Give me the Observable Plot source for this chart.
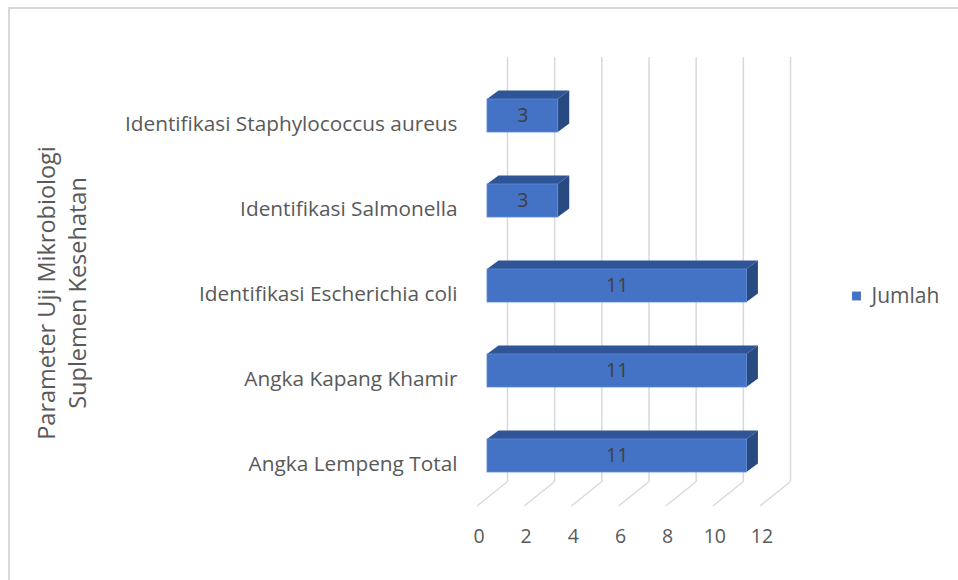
<!DOCTYPE html>
<html>
<head>
<meta charset="utf-8">
<script src="https://cdn.jsdelivr.net/npm/d3@7"></script>
<script src="https://cdn.jsdelivr.net/npm/@observablehq/plot@0.6"></script>
<style>
  html, body { margin: 0; padding: 0; background: #fff; }
  #wrap { position: relative; width: 958px; height: 580px; overflow: hidden; }
  #border { position: absolute; left: 8px; top: 7px; right: -4px; bottom: -4px;
            border-left: 2px solid #d9d9d9; border-top: 2px solid #d9d9d9; }
  #chart { position: absolute; left: 0; top: 0; }
</style>
</head>
<body>
<div id="wrap"><div id="border"></div><div id="chart"></div></div>
<script>
const categories = [
  "Identifikasi Staphylococcus aureus",
  "Identifikasi Salmonella",
  "Identifikasi Escherichia coli",
  "Angka Kapang Khamir",
  "Angka Lempeng Total"
];
const values = [3, 3, 11, 11, 11];
const xTicks = [0, 2, 4, 6, 8, 10, 12];
const seriesName = "Jumlah";
const axisTitle = "Parameter Uji Mikrobiologi\nSuplemen Kesehatan";

const data = categories.map((c, i) => ({category: c, value: values[i]}));

const FONT = "'Open Sans', sans-serif";
const FRONT = "#4472C4", TOP = "#2F5597", SIDE = "#284A80";
const GRID = "#d9d9d9", TEXT = "#595959";
const DEPTH_X = 11.5, DEPTH_Y = 8.5;      // bar depth offset
const WALL = 20;                           // back-wall offset of gridlines
const FLOOR_X = 30, FLOOR_Y = 24;          // floor diagonal
const GRID_TOP = 16, GRID_BOTTOM = 16;

function floorLines(index, scales, values, dimensions) {
  const x = scales.x;
  const yb = dimensions.height - dimensions.marginBottom - GRID_BOTTOM;
  const g = d3.create("svg:g").attr("stroke", GRID).attr("stroke-width", 1.5);
  for (const t of xTicks) {
    const xb = x(t) + WALL;
    g.append("line").attr("x1", xb).attr("y1", yb)
      .attr("x2", xb - FLOOR_X).attr("y2", yb + FLOOR_Y);
  }
  return g.node();
}

function barFaces(index, scales) {
  const x = scales.x, y = scales.y;
  const bw = y.bandwidth();
  const g = d3.create("svg:g");
  for (const d of data) {
    const x0 = x(0), x1 = x(d.value), yt = y(d.category), yb = yt + bw;
    g.append("path")
      .attr("d", `M${x0},${yt}L${x0 + DEPTH_X},${yt - DEPTH_Y}L${x1 + DEPTH_X},${yt - DEPTH_Y}L${x1},${yt}Z`)
      .attr("fill", TOP);
    g.append("path")
      .attr("d", `M${x1},${yt}L${x1 + DEPTH_X},${yt - DEPTH_Y}L${x1 + DEPTH_X},${yb - DEPTH_Y}L${x1},${yb}Z`)
      .attr("fill", SIDE);
  }
  return g.node();
}

const chart = Plot.plot({
  width: 958,
  height: 580,
  marginLeft: 487,
  marginRight: 188,
  marginTop: 73,
  marginBottom: 82,
  style: {fontFamily: FONT, background: "transparent"},
  x: {domain: [0, 12], axis: null},
  y: {domain: categories, paddingInner: 0.61, paddingOuter: 0.305, axis: null},
  marks: [
    Plot.ruleX(xTicks, {x: d => d, dx: WALL, insetTop: -GRID_TOP, insetBottom: GRID_BOTTOM,
      stroke: GRID, strokeWidth: 1.5}),
    floorLines,
    barFaces,
    Plot.barX(data, {x: "value", y: "category", fill: FRONT, stroke: "#5B8BD8", strokeWidth: 0.8}),
    Plot.text(data, {x: d => d.value / 2, y: "category", text: d => String(d.value),
      fill: "#404040", fontSize: 19.5}),
    Plot.axisX(xTicks, {tickSize: 0, tickPadding: 31, dx: -8.5, fontSize: 19.5,
      fill: TEXT, label: null, tickFormat: d => String(d)}),
    Plot.axisY({tickSize: 0, tickPadding: 30, dy: 8, fontSize: 20.8, fill: TEXT, label: null}),
    Plot.text([axisTitle], {frameAnchor: "left", textAnchor: "middle", lineAnchor: "middle",
      rotate: -90, dx: 60.5 - 487, dy: 7, fontSize: 23.5, lineHeight: 1.32, fill: TEXT}),
    Plot.dot([seriesName], {frameAnchor: "right", symbol: "square", r: 5, fill: FRONT,
      stroke: "none", dx: 86, dy: 10}),
    Plot.text([seriesName], {frameAnchor: "right", textAnchor: "start", dx: 101, dy: 10,
      fontSize: 21, fill: TEXT})
  ]
});
document.getElementById("chart").appendChild(chart);
</script>
</body>
</html>
